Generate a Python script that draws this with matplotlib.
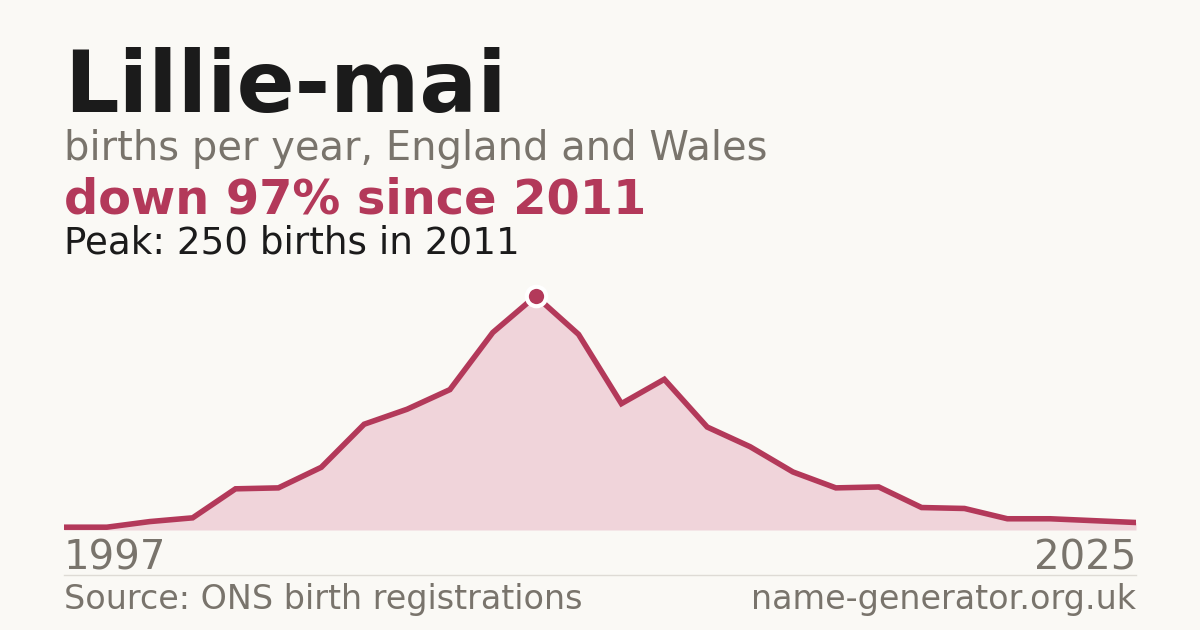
import matplotlib
matplotlib.use("Agg")
import matplotlib.pyplot as plt

name = "Lillie-mai"
subtitle = "births per year, England and Wales"
headline = "down 97% since 2011"
peak_text = "Peak: 250 births in 2011"
source = "Source: ONS birth registrations"
site = "name-generator.org.uk"

years = [1997, 2001, 2002, 2003, 2004, 2005, 2006, 2007, 2008, 2009, 2010, 2011, 2012,
         2013, 2014, 2015, 2016, 2017, 2018, 2019, 2020, 2021, 2022, 2023, 2024, 2025]
births = [3, 3, 9, 13, 44, 45, 67, 113, 129, 150, 211, 250, 209,
          135, 161, 110, 89, 62, 45, 46, 24, 23, 12, 12, 10, 8]

BG = "#faf9f5"
DARK = "#1b1b1b"
GRAY = "#79746c"
RED = "#b3395a"
FILL = "#f0d4da"

W, H = 1200, 630
fig = plt.figure(figsize=(W / 100, H / 100), dpi=100, facecolor=BG)

def fx(px):
    return px / W

def fy(py):
    return 1 - py / H

left, right = 64, 1136
base, peak_y = 530, 296
peak = max(births)
ytop = peak * 1.12
ax_top = base - (base - peak_y) * 1.12
ax = fig.add_axes([fx(left), fy(base), fx(right - left), (base - ax_top) / H])
ax.set_facecolor("none")
xs = list(range(len(years)))
ax.fill_between(xs, births, 0, color=FILL, linewidth=0, zorder=1)
ax.plot(xs, births, color=RED, linewidth=4.0, solid_joinstyle="miter", zorder=2)
pi = births.index(peak)
ax.plot([xs[pi]], [births[pi]], marker="o", markersize=14, color=RED,
        markeredgecolor="white", markeredgewidth=3, zorder=3, clip_on=False)
ax.set_xlim(xs[0], xs[-1])
ax.set_ylim(0, ytop)
ax.axis("off")

fig.text(fx(64), fy(112), name, fontsize=61.7, fontweight="bold", color=DARK,
         ha="left", va="baseline")
fig.text(fx(64), fy(160), subtitle, fontsize=28.8, color=GRAY, ha="left", va="baseline")
fig.text(fx(64), fy(214), headline, fontsize=34.5, fontweight="bold", color=RED,
         ha="left", va="baseline")
fig.text(fx(64), fy(254), peak_text, fontsize=26.8, color=DARK, ha="left", va="baseline")

fig.text(fx(64), fy(570), str(years[0]), fontsize=29, color=GRAY, ha="left", va="baseline")
fig.text(fx(1136), fy(570), str(years[-1]), fontsize=29, color=GRAY, ha="right", va="baseline")

fig.add_artist(plt.Line2D([fx(64), fx(1136)], [fy(574.5), fy(574.5)], color="#dedbd5",
                          linewidth=1, transform=fig.transFigure))

fig.text(fx(64), fy(609), source, fontsize=24, color=GRAY, ha="left", va="baseline")
fig.text(fx(1136), fy(609), site, fontsize=24, color=GRAY, ha="right", va="baseline")

fig.savefig("out.png", dpi=100, facecolor=BG)
